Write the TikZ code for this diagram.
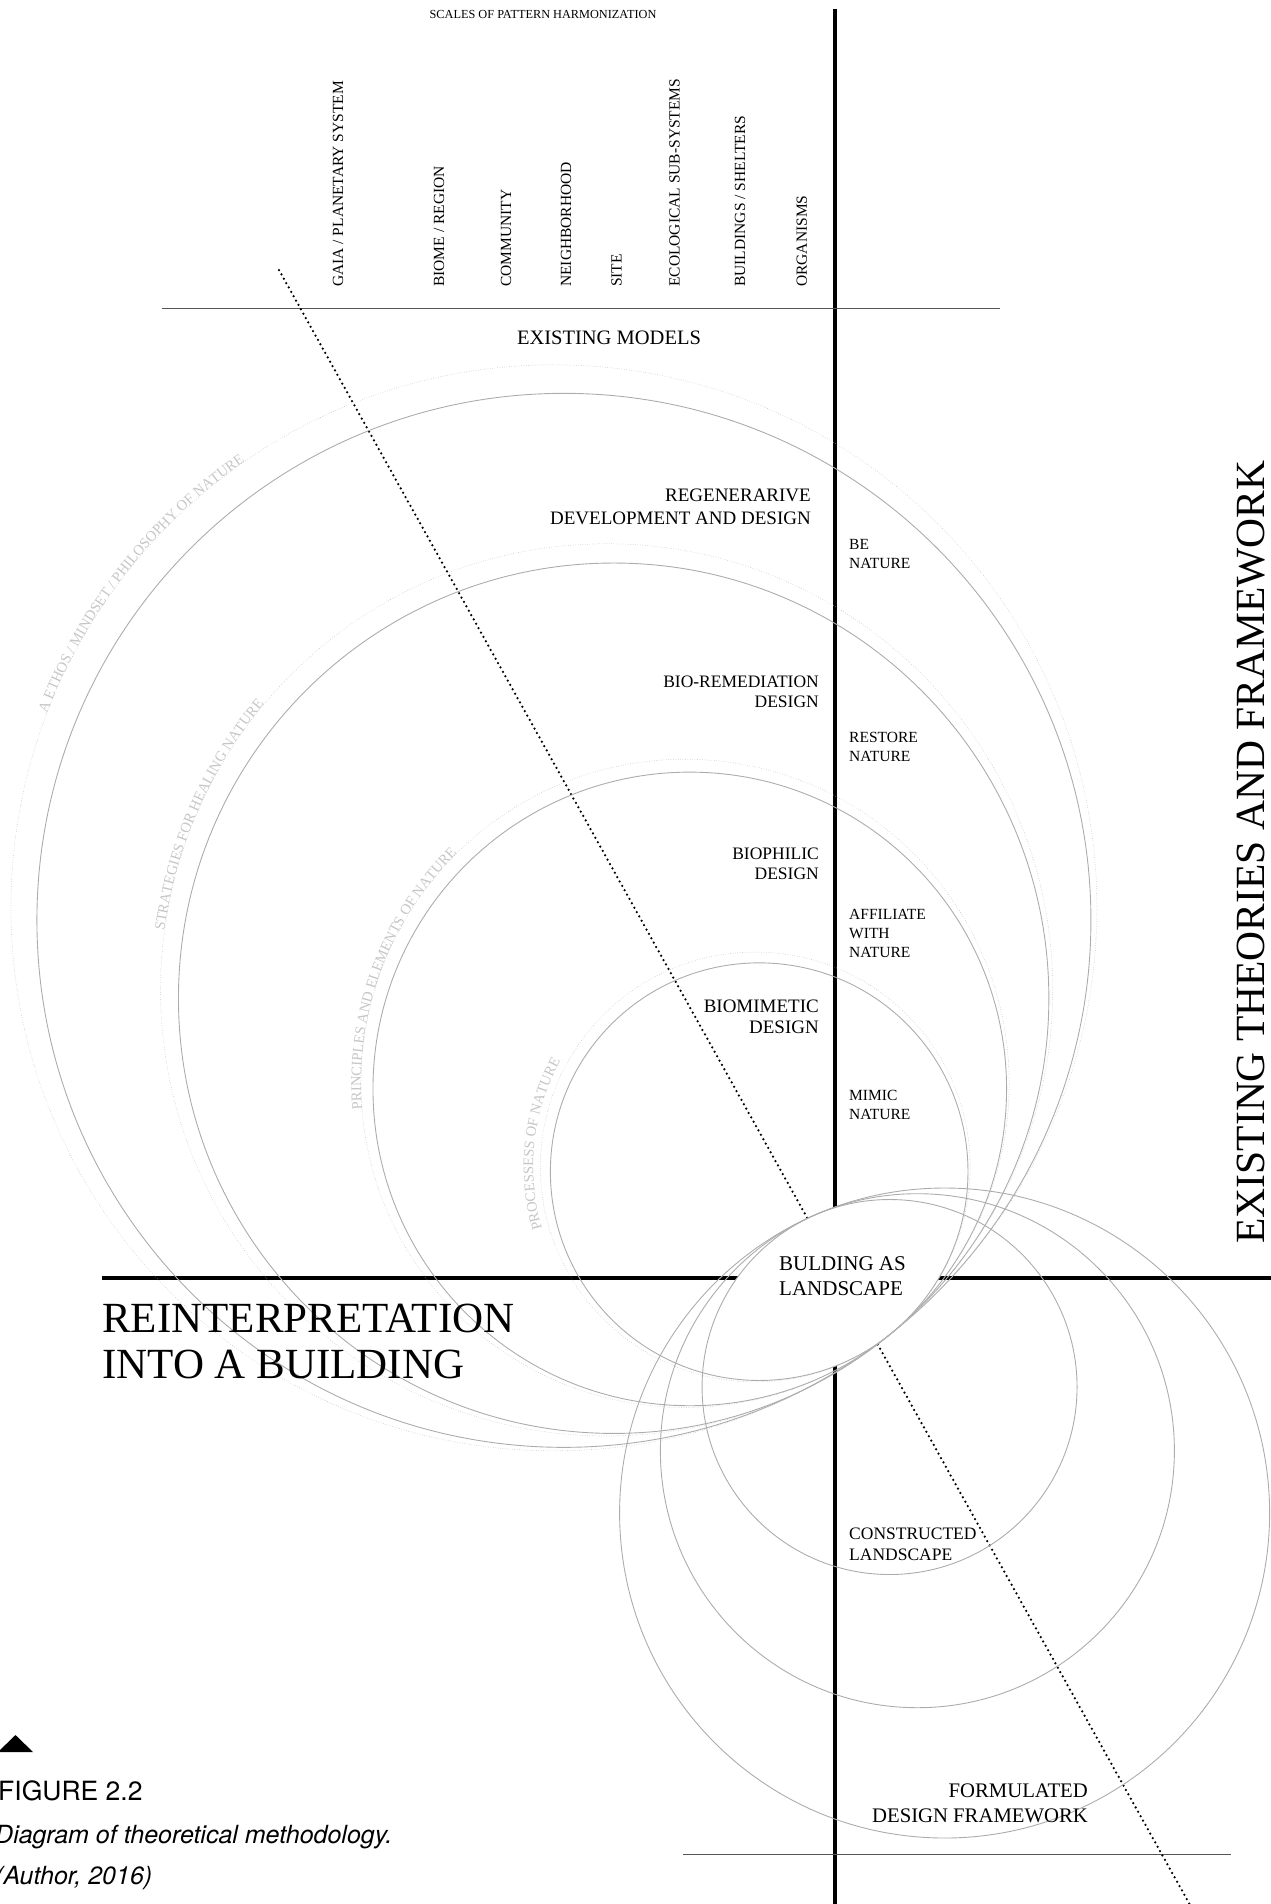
\documentclass[tikz,border=0pt]{standalone}
\usepackage{fontspec}
\setmainfont{Liberation Serif}
\newfontfamily\captionfont{TeX Gyre Heros}
\usetikzlibrary{decorations.text}

\definecolor{ringgray}{RGB}{172,172,172}
\definecolor{dotgray}{RGB}{185,185,185}
\definecolor{ghostgray}{RGB}{198,198,198}
\definecolor{rulegray}{RGB}{85,85,85}

\tikzset{
  heavy rule/.style={line width=4.5pt},
  thin rule/.style={line width=1.5pt, rulegray},
  dot trail/.style={line width=2.5pt, line cap=round, dash pattern=on 0pt off 5pt},
  ring/.style={line width=0.9pt, ringgray},
  dot ring/.style={line width=0.7pt, dotgray, line cap=round, dash pattern=on 0pt off 2.4pt},
  scale label/.style={rotate=90, anchor=base west, inner sep=0pt,
    font=\fontsize{15.5}{18}\selectfont},
  model label/.style={align=right, anchor=base east, inner sep=0pt},
  aim label/.style={align=left, anchor=base west, inner sep=0pt,
    font=\fontsize{15.5}{19}\selectfont},
  ghost text/.style={decorate, decoration={text along path, text align=left,
    text={|\fontsize{14.6}{14.6}\selectfont\color{ghostgray}|#1}}},
}

\begin{document}
\begin{tikzpicture}[x=1pt, y=1pt]
  \useasboundingbox (0,0) rectangle (1271,-1904);

  % axes
  \coordinate (axis top) at (835,-9);
  \coordinate (axis bottom) at (835,-1904);
  \coordinate (rule left) at (102,-1278);
  \coordinate (rule right) at (1271,-1278);
  \coordinate (models left) at (161.5,-308.5);
  \coordinate (models right) at (1000,-308.5);
  \coordinate (frame left) at (683,-1854.5);
  \coordinate (frame right) at (1231,-1854.5);
  \coordinate (trail top) at (279,-270);
  \coordinate (trail bottom) at (1189.5,-1904);

  \draw [heavy rule] (axis top) -- (axis bottom);
  \draw [heavy rule] (rule left) -- (rule right);
  \draw [thin rule] (models left) -- (models right);
  \draw [thin rule] (frame left) -- (frame right);
  \draw [dot trail] (trail top) -- (trail bottom);

  % touching points of the two ring families
  \coordinate (T) at (893.4,-1331.6);
  \coordinate (S) at (814.5,-1215.2);

  \begin{scope}
    \clip ([shift={(130:208.8)}]T) circle [radius=208.8];
    \fill [white] ([shift={(-66.4:187.5)}]S) circle [radius=187.5];
  \end{scope}

  \foreach \a/\r in {128.7/527,130/435.2,130/316.8,130/208.8}
    \draw [ring] ([shift={(\a:\r)}]T) circle [radius=\r];
  \foreach \a/\r in {128.7/543,130/446.1,130/324.1,130/214.9}
    \draw [dot ring] ([shift={(\a:\r)}]T) circle [radius=\r];
  \foreach \r in {325,257,187.5}
    \draw [ring] ([shift={(-66.4:\r)}]S) circle [radius=\r];

  % texts on the dotted rings
  \coordinate (ethos) at ([shift={(128.7:543)}]T);
  \coordinate (healing) at ([shift={(130:446.1)}]T);
  \coordinate (principles) at ([shift={(130:324.1)}]T);
  \coordinate (processes) at ([shift={(130:214.9)}]T);

  \path [ghost text={A ETHOS / MINDSET / PHILOSOPHY OF NATURE}]
    ([shift={(159:543)}]ethos) arc [start angle=159, end angle=112, radius=543];
  \path [ghost text={STRATEGIES FOR HEALING NATURE}]
    ([shift={(172.4:446.1)}]healing) arc [start angle=172.4, end angle=128, radius=446.1];
  \path [ghost text={PRINCIPLES AND ELEMENTS OF NATURE}]
    ([shift={(184.6:324.1)}]principles) arc [start angle=184.6, end angle=118, radius=324.1];
  \path [ghost text={PROCESSESS OF NATURE}]
    ([shift={(196.2:222)}]processes) arc [start angle=196.2, end angle=132, radius=222];

  % scales
  \node [anchor=base, inner sep=0pt, font=\fontsize{12.3}{14}\selectfont]
    (scales) at (543,-18.3) {SCALES OF PATTERN HARMONIZATION};
  \foreach \x/\s [count=\i] in {343/{GAIA / PLANETARY SYSTEM}, 444/{BIOME / REGION},
      511/COMMUNITY, 571/NEIGHBORHOOD, 621.5/SITE, 679.6/{ECOLOGICAL SUB-SYSTEMS},
      745/{BUILDINGS / SHELTERS}, 806.8/ORGANISMS}
    \node [scale label] (scale-\i) at (\x,-287) {\s};

  \node [anchor=base, inner sep=0pt, font=\fontsize{20.5}{24}\selectfont]
    (models) at (609,-344) {EXISTING MODELS};

  % models (anchored at the last line)
  \node [model label, font=\fontsize{19}{23}\selectfont]
    (regen) at (811,-524) {REGENERARIVE\\DEVELOPMENT AND DESIGN};
  \node [model label, font=\fontsize{17.5}{20.5}\selectfont]
    (remed) at (819,-707.5) {BIO-REMEDIATION\\DESIGN};
  \node [model label, font=\fontsize{17.5}{20.5}\selectfont]
    (philic) at (819,-879.5) {BIOPHILIC\\DESIGN};
  \node [model label, font=\fontsize{19}{21.5}\selectfont]
    (mimetic) at (819,-1033.5) {BIOMIMETIC\\DESIGN};

  \foreach \t/\y [count=\i] in {{BE\\NATURE}/568.5, {RESTORE\\NATURE}/761,
      {AFFILIATE\\WITH\\NATURE}/957, {MIMIC\\NATURE}/1119}
    \node [aim label] (aim-\i) at (849,-\y) {\t};

  \node [align=left, anchor=base west, inner sep=0pt, font=\fontsize{21}{25}\selectfont]
    (lens) at (779,-1295.7) {BULDING AS\\LANDSCAPE};

  \node [align=left, anchor=base west, inner sep=0pt, font=\fontsize{17.5}{21}\selectfont]
    (constructed) at (849,-1560) {CONSTRUCTED\\LANDSCAPE};
  \node [model label, font=\fontsize{20.7}{25.5}\selectfont]
    (formulated) at (1088,-1822.5) {FORMULATED\\DESIGN FRAMEWORK};

  \node [align=left, anchor=base west, inner sep=0pt, font=\fontsize{43}{46}\selectfont]
    (reinterp) at (102,-1378) {REINTERPRETATION\\INTO A BUILDING};

  \node [rotate=90, anchor=base, inner sep=0pt, font=\fontsize{41.5}{44}\selectfont]
    (theories) at (1264,-852) {EXISTING THEORIES AND FRAMEWORK};

  % caption
  \fill (-2,-1752) -- (33,-1752) -- (15.5,-1735) -- cycle;
  \node [anchor=base west, inner sep=0pt, font=\captionfont\fontsize{26.5}{30}\selectfont]
    (fig-no) at (-2,-1800.5) {FIGURE 2.2};
  \node [anchor=base west, inner sep=0pt, font=\captionfont\itshape\fontsize{25}{30}\selectfont]
    (fig-text) at (-5,-1843) {Diagram of theoretical methodology.};
  \node [anchor=base west, inner sep=0pt, font=\captionfont\itshape\fontsize{25}{30}\selectfont]
    (fig-src) at (-5,-1884) {(Author, 2016)};
\end{tikzpicture}
\end{document}
